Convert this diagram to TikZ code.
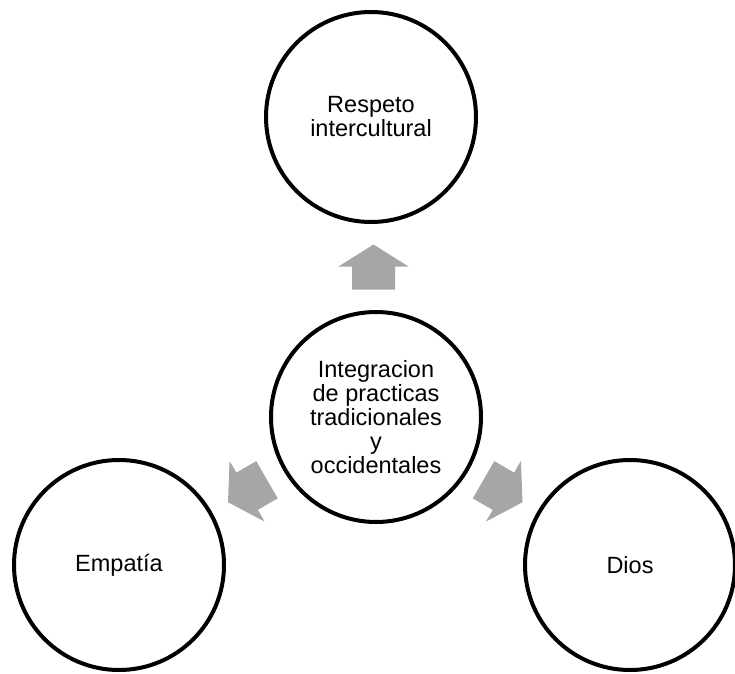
\documentclass[tikz,border=0pt]{standalone}
\usepackage{fontspec}
\setmainfont{Liberation Sans}
\usetikzlibrary{calc}

% блочная стрелка в середине между двумя кругами
\newcommand{\blockarrow}[3]{%
  \fill[flow, shift={($(#1)!0.5!(#2)$)}, rotate=#3]
    (-22.5,-21.5) -- (0.5,-21.5) -- (0.5,-35) -- (22.5,0)
    -- (0.5,35) -- (0.5,21.5) -- (-22.5,21.5) -- cycle;%
}

\begin{document}
\begin{tikzpicture}[x=1pt, y=1pt,
  idea/.style={circle, draw=black, line width=4pt, minimum size=210pt,
    inner sep=0pt, align=center, font=\fontsize{23.5}{24}\selectfont},
  flow/.style={fill=black!35}]
\useasboundingbox (0,0) rectangle (735,673);

% ---------- круги
\node[idea] (core)    at (376,256) {Integracion\\de practicas\\tradicionales\\y\\occidentales};
\node[idea] (respect) at (371,556) {Respeto\\intercultural};
\node[idea] (empathy) at (119,108) {Empatía};
\node[idea] (god)     at (630,108) {Dios};

% ---------- стрелки от центра наружу
\blockarrow{core}{respect}{90}
\blockarrow{core}{empathy}{210}
\blockarrow{core}{god}{330}
\end{tikzpicture}
\end{document}
